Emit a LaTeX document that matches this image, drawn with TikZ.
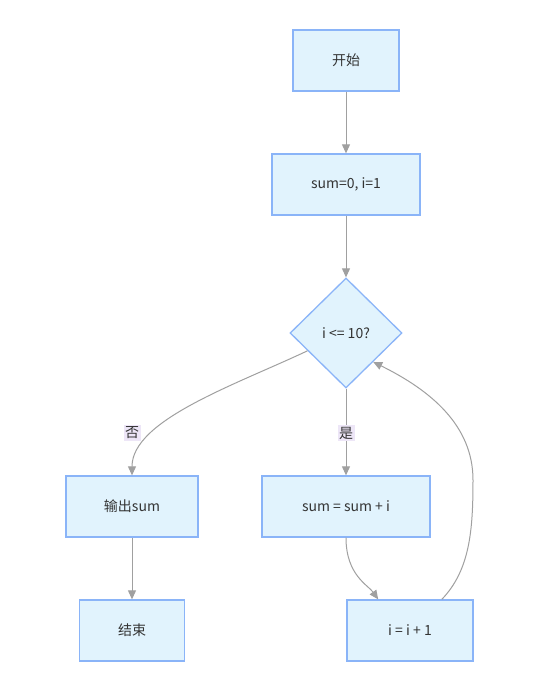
\documentclass[tikz,border=0pt]{standalone}
\usepackage{fontspec}
\setmainfont{Noto Sans CJK SC}
\usetikzlibrary{shapes.geometric,arrows.meta,calc}
\definecolor{boxfill}{HTML}{E1F3FD}
\definecolor{boxline}{HTML}{8AB4F8}
\definecolor{edgecol}{HTML}{A0A0A0}
\definecolor{txt}{HTML}{333333}
\definecolor{lblbg}{HTML}{EDE6F7}
\begin{document}
\begin{tikzpicture}[x=1pt,y=-1pt,
  font=\fontsize{14}{17}\selectfont, text=txt,
  box/.style={draw=boxline, fill=boxfill, line width=1.3pt, minimum height=61pt, inner sep=0pt},
  dia/.style={diamond, draw=boxline, fill=boxfill, line width=1.3pt, minimum width=112pt, minimum height=110pt, inner sep=0pt},
  conn/.style={draw=edgecol, line width=1pt, -{Triangle[length=9pt,width=8pt]}},
  lbl/.style={fill=lblbg, inner sep=1.5pt, font=\fontsize{14}{17}\selectfont}]
\useasboundingbox (0,0) rectangle (547,686);
\fill[white] (0,0) rectangle (547,686);
\node[box, minimum width=106pt] (start) at (346,60.5) {开始};
\node[box, minimum width=148pt] (init) at (346,184.5) {sum=0, i=1};
\node[dia] (cond) at (346,333) {i <= 10?};
\node[box, minimum width=132pt] (out) at (132,506.5) {输出sum};
\node[box, minimum width=168pt] (add) at (346,506.5) {sum = sum + i};
\node[box, minimum width=105pt] (stop) at (132,630.5) {结束};
\node[box, minimum width=126pt] (inc) at (410,630.5) {i = i + 1};
\coordinate (noA) at ($(cond.west)!0.32!(cond.south)$);
\coordinate (loopB) at ($(cond.east)!0.52!(cond.south)$);
\coordinate (incA) at ($(inc.north west)!0.75!(inc.north east)$);
\coordinate (incB) at ($(inc.north west)!0.25!(inc.north east)$);
\draw[conn] (start) -- (init);
\draw[conn] (init) -- (cond);
\draw[conn] (noA) .. controls (235,385) and (132,420) .. (out.north);
\draw[conn] (cond.south) -- (add.north);
\draw[conn] (add.south) .. controls (346,575) and (368,585) .. (incB);
\draw[conn] (incA) .. controls (470,570) and (473,530) .. (473,480) .. controls (473,425) and (430,390) .. (loopB);
\draw[conn] (out) -- (stop);
\node[lbl] at (132,433) {否};
\node[lbl] at (346,433) {是};
\end{tikzpicture}
\end{document}
